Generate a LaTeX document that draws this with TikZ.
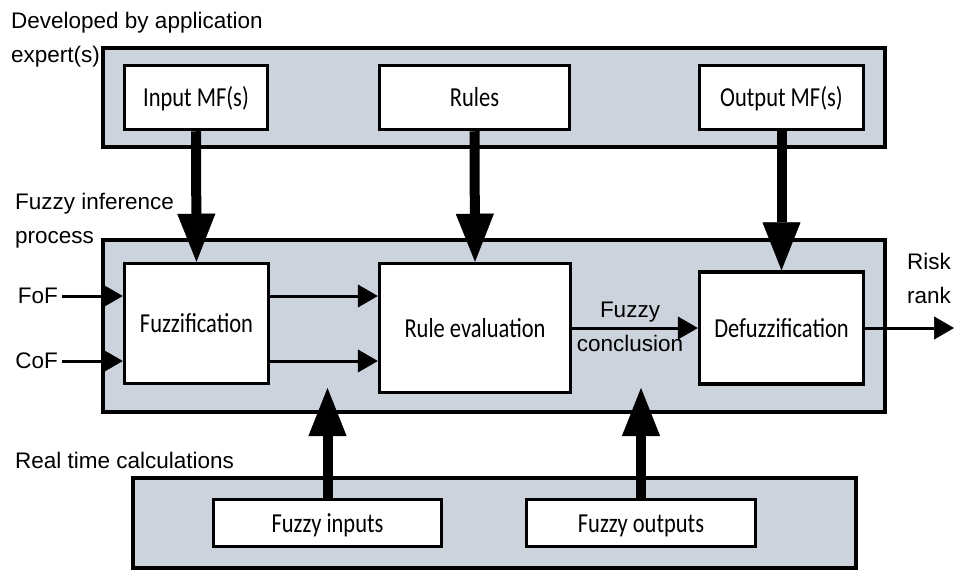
\documentclass[tikz,border=0pt]{standalone}
\usepackage{fontspec}
\setmainfont{Liberation Sans}
\newfontfamily\calfont{Carlito}
\usetikzlibrary{arrows.meta}
\definecolor{panelgrey}{RGB}{204,211,221}
\newcommand{\bt}[1]{\scalebox{1}[1.22]{#1}}

\begin{document}
\begin{tikzpicture}[x=1pt, y=-1pt,
  panel/.style={draw, line width=4pt, fill=panelgrey},
  blk/.style={draw, line width=3.5pt, fill=white, inner sep=0pt,
    text height=22pt, text depth=4pt,
    font=\calfont\fontsize{22.5}{27}\selectfont},
  lbl/.style={font=\fontsize{22.5}{34}\selectfont, align=left, inner sep=0pt},
  thinarr/.style={line width=3pt, -{Triangle[length=20pt,width=23pt,line width=0.5pt]}},
  fatarr/.style={line width=10pt, -{Triangle[length=48pt,width=38pt,line width=0.5pt]}}]
  \useasboundingbox (0,0) rectangle (954,570);
  % three panels
  \draw[panel] (103,48) rectangle (885,147);
  \draw[panel] (103,240) rectangle (885,412);
  \draw[panel] (133,478) rectangle (856,568);
  % expert blocks
  \node[blk, minimum width=143pt, minimum height=64pt] (inmf) at (196,97.5) {\bt{Input MF(s)}};
  \node[blk, minimum width=190pt, minimum height=64pt] (rules) at (474.5,97.5) {\bt{Rules}};
  \node[blk, minimum width=164pt, minimum height=64pt] (outmf) at (781.5,97.5) {\bt{Output MF(s)}};
  % inference blocks
  \node[blk, minimum width=144pt, minimum height=120pt] (fuzz) at (196.5,323.5) {\bt{Fuzzification}};
  \node[blk, minimum width=191pt, minimum height=129pt] (ruleev) at (475,328) {\bt{Rule evaluation}};
  \node[blk, minimum width=164pt, minimum height=112pt] (defuzz) at (781.5,328) {\bt{Defuzzification}};
  % real time blocks
  \node[blk, minimum width=228pt, minimum height=47pt] (fin) at (327.5,523) {\bt{Fuzzy inputs}};
  \node[blk, minimum width=229pt, minimum height=47pt] (fout) at (641,523) {\bt{Fuzzy outputs}};
  % labels
  \node[lbl, anchor=west] (dev) at (11,40) {Developed by application\\expert(s)};
  \node[lbl, anchor=west] (fip) at (15,221) {Fuzzy inference\\process};
  \node[lbl, anchor=west] (rtc) at (15,460) {Real time calculations};
  \node[lbl, anchor=east, inner xsep=4pt] (fof) at (62,296) {FoF};
  \node[lbl, anchor=east, inner xsep=4pt] (cof) at (62,361) {CoF};
  \node[lbl, align=center] (concl) at (630,327) {Fuzzy\\conclusion};
  \node[lbl, anchor=west] (risk) at (907,278) {Risk\\rank};
  \coordinate (fintip) at (327.5,388);
  \coordinate (fouttip) at (641,388);
  \coordinate (riskend) at (954,328);
  % big arrows
  \draw[fatarr] (inmf.south) -- (fuzz.north);
  \draw[fatarr] (rules.south) -- (ruleev.north);
  \draw[fatarr] (outmf.south) -- (defuzz.north);
  \draw[fatarr] (fin.north) -- (fintip);
  \draw[fatarr] (fout.north) -- (fouttip);
  % signal arrows
  \draw[thinarr] (fof) -- (fof -| fuzz.west);
  \draw[thinarr] (cof) -- (cof -| fuzz.west);
  \draw[thinarr] (fuzz.east |- fof) -- (ruleev.west |- fof);
  \draw[thinarr] (fuzz.east |- cof) -- (ruleev.west |- cof);
  \draw[thinarr] (ruleev.east) -- (defuzz.west);
  \draw[thinarr] (defuzz.east) -- (riskend);
\end{tikzpicture}
\end{document}
